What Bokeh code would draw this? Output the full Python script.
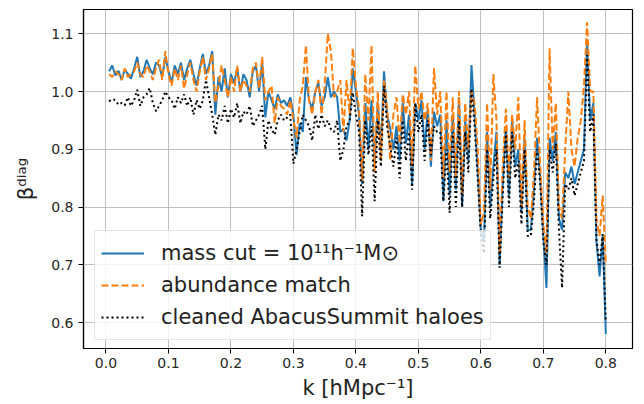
from bokeh.plotting import figure
from bokeh.models import Range1d, FixedTicker, Legend, LegendItem
from bokeh.embed import file_html
from bokeh.resources import INLINE

# k bins (hMpc^-1)
k = [round(0.005 * i, 3) for i in range(1, 161)]

mass_cut = [
    1.035, 1.045, 1.028, 1.036, 1.020, 1.038, 1.030, 1.022, 1.040, 1.060,
    1.025, 1.035, 1.055, 1.040, 1.030, 1.050, 1.045, 1.025, 1.060, 1.035,
    1.015, 1.045, 1.030, 1.050, 1.020, 1.040, 1.055, 1.030, 1.010, 1.040,
    1.065, 1.030, 1.045, 1.070, 0.960, 1.025, 1.000, 1.040, 0.990, 1.030,
    1.015, 1.040, 1.000, 1.030, 1.020, 0.990, 1.035, 1.045, 1.000, 1.050,
    0.955, 1.000, 0.985, 0.970, 0.995, 0.980, 0.985, 0.975, 0.990, 0.960,
    0.890, 0.945, 0.930, 1.025, 0.985, 0.970, 1.000, 1.015, 0.975, 0.990,
    1.025, 0.990, 1.000, 0.990, 0.930, 0.935, 0.915, 0.950, 1.040, 1.000,
    0.960, 0.840, 0.980, 0.900, 0.985, 0.875, 0.980, 0.900, 1.035, 0.960,
    0.935, 0.900, 0.940, 0.880, 0.980, 0.910, 0.960, 0.840, 0.980, 0.950,
    0.985, 0.900, 0.970, 0.870, 0.965, 0.940, 0.960, 0.810, 0.950, 0.820,
    0.960, 0.830, 0.990, 0.800, 0.950, 0.880, 1.046, 0.960, 0.860, 0.760,
    0.740, 0.930, 0.800, 0.870, 0.930, 0.700, 0.840, 0.940, 0.820, 0.950,
    0.870, 0.900, 0.790, 0.920, 0.760, 0.760, 0.830, 0.920, 0.850, 0.750,
    0.660, 0.920, 0.880, 0.930, 0.780, 0.760, 0.860, 0.850, 0.870, 0.840,
    0.860, 0.880, 0.900, 1.090, 0.950, 0.980, 0.740, 0.680, 0.750, 0.580,
]

abundance = [
    1.030, 1.025, 1.035, 1.030, 1.020, 1.040, 1.025, 1.030, 1.035, 1.050,
    1.030, 1.025, 1.045, 1.035, 1.020, 1.040, 1.055, 1.020, 1.070, 1.030,
    1.010, 1.040, 1.020, 1.045, 1.005, 1.030, 1.050, 1.020, 1.000, 1.035,
    1.060, 1.020, 1.040, 1.065, 0.980, 1.010, 1.045, 1.020, 0.990, 1.025,
    1.000, 1.045, 1.000, 1.020, 1.010, 1.000, 1.040, 1.050, 1.005, 1.060,
    0.985, 1.000, 1.010, 0.945, 0.990, 0.975, 0.970, 0.960, 0.985, 0.950,
    0.920, 0.985, 1.010, 1.080, 0.985, 0.960, 1.000, 1.020, 0.960, 1.010,
    1.100, 1.070, 0.990, 1.000, 1.020, 0.930, 1.020, 0.960, 1.075, 1.010,
    0.970, 0.845, 1.030, 0.950, 1.080, 0.860, 1.000, 0.880, 1.020, 0.970,
    0.880, 0.960, 0.990, 0.910, 0.995, 0.960, 1.000, 0.870, 1.045, 0.970,
    1.000, 0.950, 0.980, 0.880, 1.040, 0.960, 1.000, 0.850, 1.000, 0.860,
    0.990, 0.850, 1.000, 0.820, 0.980, 0.900, 1.000, 0.980, 0.900, 0.770,
    0.790, 0.980, 0.830, 1.030, 0.950, 0.720, 0.870, 0.970, 0.850, 0.960,
    0.900, 0.990, 0.800, 0.950, 0.800, 0.780, 0.860, 0.990, 0.870, 0.770,
    0.720, 1.075, 0.900, 0.980, 0.800, 0.780, 0.900, 1.000, 0.900, 0.870,
    0.920, 0.950, 1.010, 1.120, 1.000, 1.000, 0.780, 0.750, 0.820, 0.700,
]

cleaned = [
    0.983, 0.987, 0.985, 0.977, 0.980, 0.976, 0.990, 0.975, 0.985, 1.003,
    0.975, 0.990, 0.995, 1.006, 0.980, 0.966, 0.975, 0.985, 1.000, 0.990,
    0.985, 0.970, 0.990, 0.980, 0.995, 0.975, 0.990, 0.960, 0.985, 0.970,
    0.985, 1.020, 0.990, 0.960, 0.925, 0.960, 0.950, 0.975, 0.945, 0.970,
    0.955, 0.980, 0.945, 0.965, 0.960, 0.975, 0.940, 0.950, 0.960, 0.975,
    0.900, 0.950, 0.935, 0.925, 0.950, 0.960, 0.950, 0.955, 0.960, 0.875,
    0.900, 0.930, 0.960, 0.950, 0.940, 0.915, 0.960, 0.935, 0.960, 0.940,
    0.950, 0.935, 0.930, 0.950, 0.880, 0.900, 0.940, 0.950, 0.998, 0.960,
    0.930, 0.784, 0.950, 0.890, 0.940, 0.810, 0.950, 0.870, 1.010, 0.940,
    0.905, 0.870, 0.920, 0.850, 0.950, 0.880, 0.930, 0.830, 0.980, 0.930,
    0.960, 0.880, 0.950, 0.890, 0.940, 0.930, 0.930, 0.810, 0.900, 0.790,
    0.930, 0.800, 0.950, 0.800, 0.930, 0.860, 1.005, 0.940, 0.850, 0.750,
    0.720, 0.900, 0.780, 0.850, 0.900, 0.695, 0.820, 0.930, 0.800, 0.930,
    0.850, 0.880, 0.770, 0.900, 0.750, 0.750, 0.810, 0.900, 0.840, 0.740,
    0.700, 0.900, 0.860, 0.910, 0.760, 0.660, 0.840, 0.830, 0.850, 0.820,
    0.840, 0.860, 0.880, 1.063, 0.930, 0.960, 0.744, 0.700, 0.753, 0.600,
]

x_ticks = [0.0, 0.1, 0.2, 0.3, 0.4, 0.5, 0.6, 0.7, 0.8]
y_ticks = [0.6, 0.7, 0.8, 0.9, 1.0, 1.1]

p = figure(frame_width=549, frame_height=339, output_backend="svg",
           toolbar_location=None,
           x_range=Range1d(-0.036, 0.8427), y_range=Range1d(0.555, 1.142),
           min_border_left=83, min_border_right=5, min_border_top=9,
           min_border_bottom=50)

p.background_fill_color = "white"
p.border_fill_color = "white"
p.outline_line_color = "black"
p.outline_line_width = 1.2

for ax in (p.xaxis[0], p.yaxis[0]):
    ax.axis_line_color = "black"
    ax.axis_line_width = 1.2
    ax.major_tick_line_color = "black"
    ax.major_tick_out = 5
    ax.major_tick_in = 0
    ax.minor_tick_line_color = None
    ax.major_label_text_font = "DejaVu Sans"
    ax.major_label_text_font_size = "14px"
    ax.major_label_text_color = "#262626"
    ax.axis_label_text_font = "DejaVu Sans"
    ax.axis_label_text_font_size = "21px"
    ax.axis_label_text_font_style = "normal"
    ax.axis_label_text_color = "#222222"

p.xaxis.ticker = FixedTicker(ticks=x_ticks)
p.yaxis.ticker = FixedTicker(ticks=y_ticks)
p.xaxis.major_label_overrides = {t: f"{t:.1f}" for t in x_ticks}
p.yaxis.major_label_overrides = {t: f"{t:.1f}" for t in y_ticks}
p.xaxis.axis_label = "k [hMpc⁻¹]"
p.yaxis.axis_label = "βᵈⁱᵃᵍ"
p.xaxis.axis_label_standoff = 5
p.yaxis.axis_label_standoff = 10
p.xaxis.major_label_standoff = 4
p.yaxis.major_label_standoff = 5

p.xgrid.grid_line_color = "#b0b0b0"
p.ygrid.grid_line_color = "#b0b0b0"
p.xgrid.grid_line_alpha = 0.8
p.ygrid.grid_line_alpha = 0.8
p.xgrid.grid_line_width = 1
p.ygrid.grid_line_width = 1

r1 = p.line(k, mass_cut, line_color="#1f77b4", line_width=2)
r2 = p.line(k, abundance, line_color="#ff7f0e", line_width=2, line_dash="7 3")
r3 = p.line(k, cleaned, line_color="black", line_width=2, line_dash="2 3")

legend = Legend(items=[
    LegendItem(label="mass cut = 10¹¹h⁻¹M⊙", renderers=[r1]),
    LegendItem(label="abundance match", renderers=[r2]),
    LegendItem(label="cleaned AbacusSummit haloes", renderers=[r3]),
], location=(11, 8))
legend.label_text_font = "DejaVu Sans"
legend.label_text_font_size = "21px"
legend.label_text_color = "#222222"
legend.glyph_width = 43
legend.glyph_height = 32
legend.label_height = 32
legend.label_standoff = 17
legend.spacing = 0
legend.padding = 6
legend.margin = 0
legend.border_line_color = "#cccccc"
legend.border_line_width = 1
legend.background_fill_color = "white"
legend.background_fill_alpha = 0.8
p.add_layout(legend, "center")

open("out.html", "w").write(file_html(p, INLINE))
